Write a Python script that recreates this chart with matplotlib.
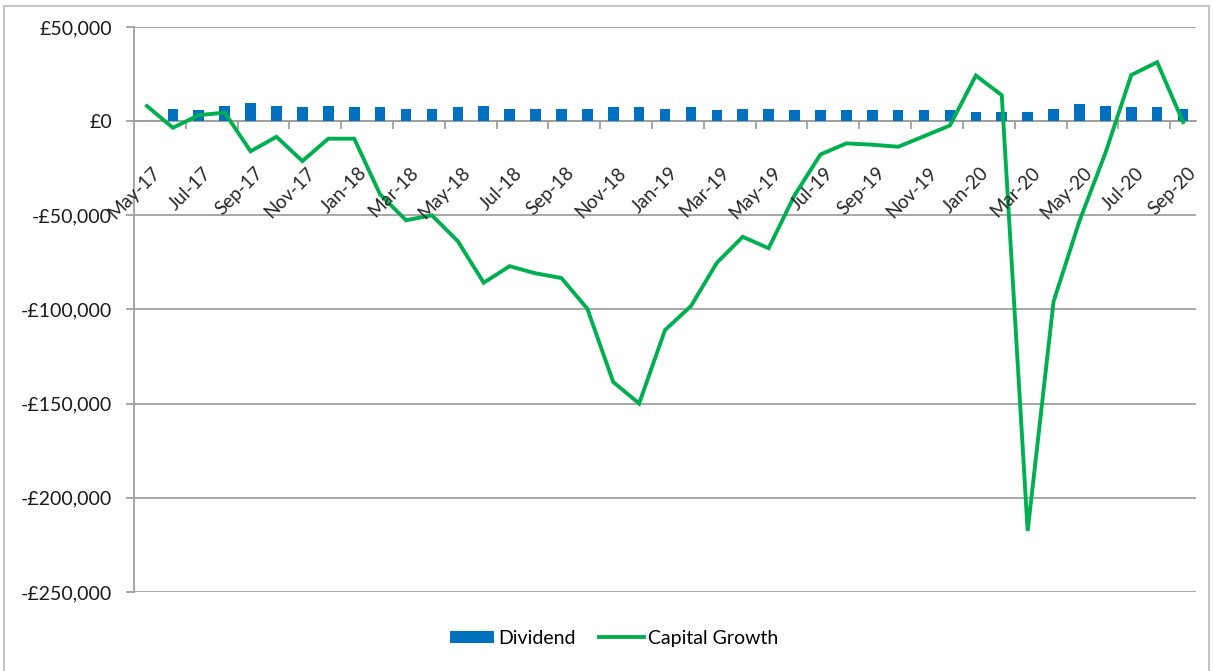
import matplotlib.pyplot as plt
import numpy as np
from matplotlib.ticker import FuncFormatter, FixedLocator
from matplotlib.transforms import offset_copy
from matplotlib.patches import Rectangle

plt.rcParams['font.family'] = ['Lato', 'DejaVu Sans']

# monthly figures, May-17 .. Sep-20
months = ["May-17", "Jun-17", "Jul-17", "Aug-17", "Sep-17", "Oct-17", "Nov-17", "Dec-17",
          "Jan-18", "Feb-18", "Mar-18", "Apr-18", "May-18", "Jun-18", "Jul-18", "Aug-18",
          "Sep-18", "Oct-18", "Nov-18", "Dec-18", "Jan-19", "Feb-19", "Mar-19", "Apr-19",
          "May-19", "Jun-19", "Jul-19", "Aug-19", "Sep-19", "Oct-19", "Nov-19", "Dec-19",
          "Jan-20", "Feb-20", "Mar-20", "Apr-20", "May-20", "Jun-20", "Jul-20", "Aug-20",
          "Sep-20"]

dividend = [0, 6500, 5700, 8100, 9900, 8100, 7400, 8100,
            7400, 7400, 6500, 6500, 7400, 8100, 6500, 6500,
            6500, 6500, 7400, 7400, 6500, 7400, 5700, 6500,
            6500, 5700, 5700, 5700, 5700, 5700, 5700, 5700,
            4800, 4800, 4800, 6500, 9000, 8100, 7400, 7400,
            6500]

capital_growth = [8000, -3500, 3200, 4500, -16000, -8300, -21200, -9300,
                  -9300, -38900, -52600, -50000, -63700, -85800, -77000, -80800,
                  -83300, -99600, -138500, -149900, -110900, -98200, -75200, -61400,
                  -67500, -39400, -17700, -11800, -12500, -13600, -8000, -2300,
                  24200, 13800, -217600, -95800, -53000, -17000, 24500, 31300,
                  -500]

x = np.arange(len(months))

fig = plt.figure(figsize=(12.13, 6.71), dpi=100)
ax = fig.add_axes([0.1105, 0.1177, 0.8755, 0.8421])

grid_col = '#A0A0A0'
bars = ax.bar(x, dividend, width=0.41, color='#0070C0', label='Dividend', zorder=2)
line, = ax.plot(x, capital_growth, color='#00B050', lw=2.8, label='Capital Growth',
                solid_joinstyle='miter', zorder=3)

ax.set_xlim(-0.5, len(months) - 0.5)
ax.set_ylim(-250000, 50000)
ax.set_yticks(np.arange(-250000, 50001, 50000))
ax.yaxis.set_major_formatter(FuncFormatter(
    lambda v, p: ('-£{:,.0f}'.format(-v) if v < 0 else '£{:,.0f}'.format(v))))
ax.grid(axis='y', color=grid_col, lw=1.3, zorder=0)

# category axis sits on zero
for s in ['top', 'right']:
    ax.spines[s].set_visible(False)
ax.spines['bottom'].set_position(('data', 0))
ax.spines['bottom'].set_color(grid_col)
ax.spines['bottom'].set_linewidth(1.3)
ax.spines['bottom'].set_zorder(1)
ax.spines['left'].set_color(grid_col)
ax.spines['left'].set_linewidth(1.3)

# tick marks between every second month, labels drawn as text below the zero line
ax.set_xticks([])
ax.xaxis.set_minor_locator(FixedLocator(np.arange(1.5, len(months), 2)))
ax.tick_params(axis='x', which='minor', length=6, width=1.3, color=grid_col)
ax.tick_params(axis='y', length=6, width=1.3, color=grid_col, labelsize=14,
               labelcolor='#1a1a1a', pad=10)

lab_trans = offset_copy(ax.transData, fig=fig, x=4, y=-43, units='dots')
for i in x[::2]:
    ax.text(i, 0, months[i], transform=lab_trans, rotation=45, rotation_mode='anchor',
            ha='right', va='top', fontsize=13.5, color='#262626', clip_on=False)

fig.legend(handles=[bars, line], loc='center', bbox_to_anchor=(0.506, 0.049), ncol=2,
           frameon=False, fontsize=14, handlelength=2.3, handleheight=0.6,
           columnspacing=1.2, handletextpad=0.2)

# chart frame
fig.patches.append(Rectangle((4 / 1213, -0.02), 1205 / 1213, 1 - 6 / 671 + 0.02,
                             transform=fig.transFigure, fill=False,
                             edgecolor='#BFBFBF', lw=1.3))

fig.savefig('out.png', dpi=100)
